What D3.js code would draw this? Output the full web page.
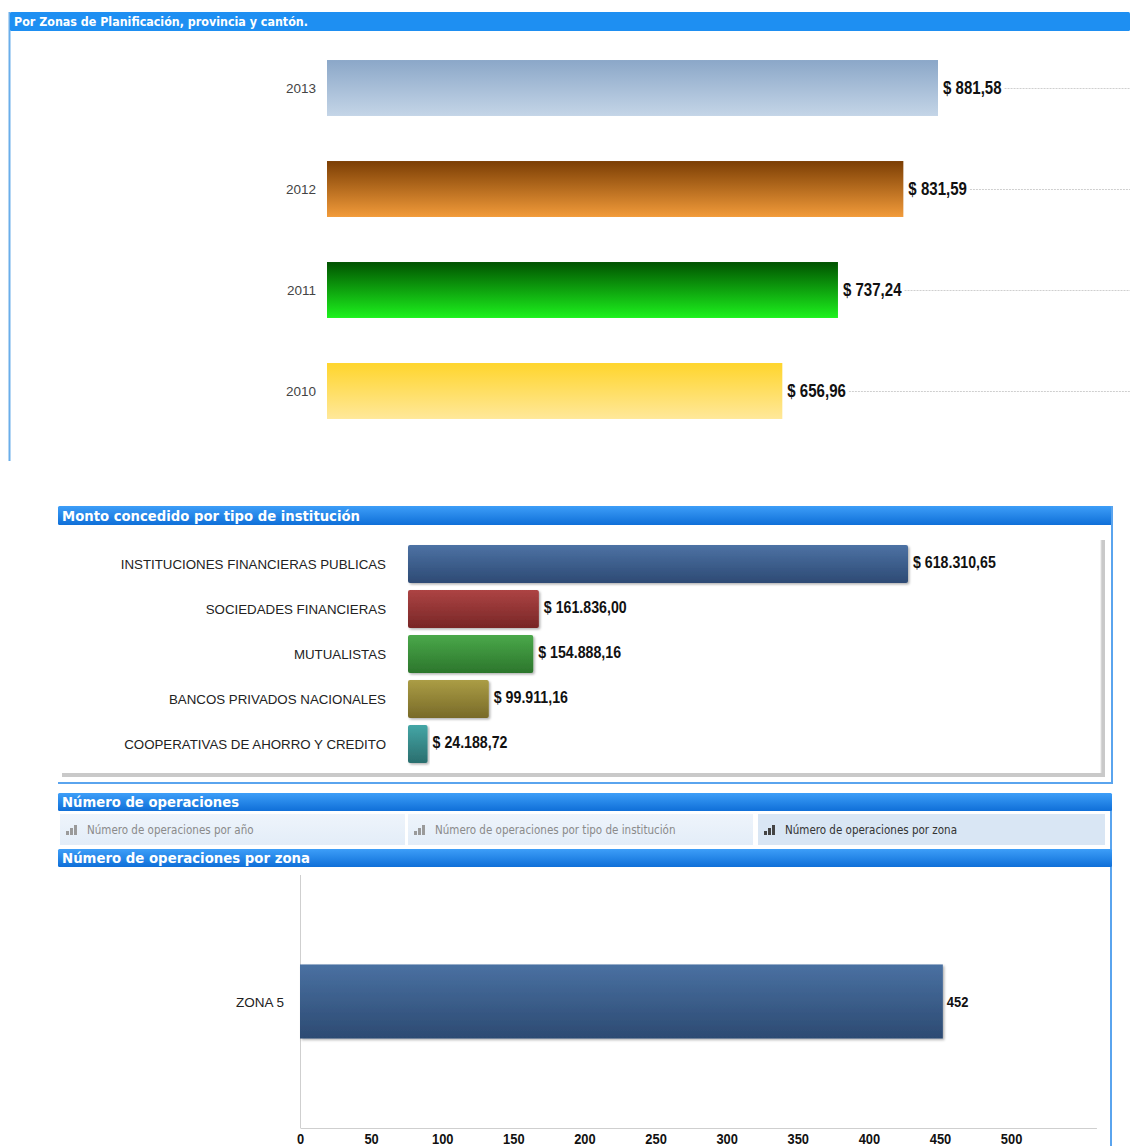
<!DOCTYPE html>
<html>
<head>
<meta charset="utf-8">
<script src="https://cdn.jsdelivr.net/npm/d3@7"></script>
<style>
  html, body { margin: 0; padding: 0; background: #fff; }
  svg { display: block; }
  .hdr { font-family: "DejaVu Sans", Tahoma, sans-serif; font-weight: bold; fill: #fff; }
  .cat { font-family: "Liberation Sans", Arial, sans-serif; }
  .val { font-family: "Liberation Sans", Arial, sans-serif; font-weight: bold; fill: #111; }
  .tab { font-family: "DejaVu Sans Condensed", "DejaVu Sans", sans-serif; font-size: 11.5px; }
</style>
</head>
<body>
<script>
// Amount granted per year
const years = ["2013", "2012", "2011", "2010"];
const yearAmounts = [881.58, 831.59, 737.24, 656.96];

// Amount granted per institution type
const institutions = [
  "INSTITUCIONES FINANCIERAS PUBLICAS",
  "SOCIEDADES FINANCIERAS",
  "MUTUALISTAS",
  "BANCOS PRIVADOS NACIONALES",
  "COOPERATIVAS DE AHORRO Y CREDITO"
];
const institutionAmounts = [618310.65, 161836.00, 154888.16, 99911.16, 24188.72];

// Number of operations per zone
const zones = ["ZONA 5"];
const zoneOperations = [452];
const operationTicks = [0, 50, 100, 150, 200, 250, 300, 350, 400, 450, 500];

const tabs = [
  "Número de operaciones por año",
  "Número de operaciones por tipo de institución",
  "Número de operaciones por zona"
];

const W = 1130, H = 1146;
const NARROW = 0.86; // horizontal squeeze for the condensed value labels
const locale = d3.formatLocale({ decimal: ",", thousands: ".", grouping: [3], currency: ["$ ", ""] });
const money = locale.format("$,.2f");

const svg = d3.select("body").append("svg").attr("width", W).attr("height", H);
const defs = svg.append("defs");

function vGrad(id, top, bottom) {
  const g = defs.append("linearGradient").attr("id", id)
    .attr("x1", 0).attr("y1", 0).attr("x2", 0).attr("y2", 1);
  g.append("stop").attr("offset", "0%").attr("stop-color", top);
  g.append("stop").attr("offset", "100%").attr("stop-color", bottom);
  return `url(#${id})`;
}

// condensed bold value label, returns its drawn width
function valueLabel(parent, x, y, size, text) {
  const t = parent.append("text").attr("class", "val")
    .attr("transform", `translate(${x},${y}) scale(${NARROW},1)`)
    .style("font-size", size + "px").text(text);
  return t.node().getComputedTextLength() * NARROW;
}

const hdrFill = vGrad("hdr", "#3d9ef8", "#0f6fd8");
const tabFill = vGrad("tabbg", "#eef4fb", "#e3edf8");

function header(x, y, w, h, text, textLen, size, fill) {
  svg.append("rect").attr("x", x).attr("y", y).attr("width", w).attr("height", h)
    .attr("rx", 1.5).attr("fill", fill || hdrFill);
  svg.append("text").attr("class", "hdr")
    .attr("x", x + 4).attr("y", y + h / 2 + size * 0.36)
    .style("font-size", size + "px")
    .attr("textLength", textLen).attr("lengthAdjust", "spacingAndGlyphs")
    .text(text);
}

// ---------- Panel 1: amount per year ----------
svg.append("line").attr("x1", 9.5).attr("x2", 9.5).attr("y1", 12).attr("y2", 461)
  .attr("stroke", "#6aaeea").attr("stroke-width", 2);
header(10, 12, 1120, 19, "Por Zonas de Planificación, provincia y cantón.", 294, 12, "#1e8ff2");

const yearColors = [
  ["#8ba7c8", "#c4d5e7"],
  ["#7b3e04", "#f29b3a"],
  ["#005200", "#1df21d"],
  ["#ffd52c", "#ffe89a"]
];
const yearFills = yearColors.map((c, i) => vGrad("yr" + i, c[0], c[1]));

const x1 = d3.scaleLinear().domain([0, d3.max(yearAmounts)]).range([327, 938]);
const y1 = d3.scaleBand().domain(years).range([37.5, 441.5]).paddingInner(0.446).paddingOuter(0.223);

const p1 = svg.append("g");
years.forEach((yr, i) => {
  const cy = y1(yr) + y1.bandwidth() / 2;
  const lw = valueLabel(p1, x1(yearAmounts[i]) + 5, cy + 5.5, 17.5, money(yearAmounts[i]));
  p1.append("line")
    .attr("x1", x1(yearAmounts[i]) + 8 + lw).attr("x2", W)
    .attr("y1", cy + 0.5).attr("y2", cy + 0.5)
    .attr("stroke", "#cfcfcf").attr("stroke-dasharray", "2,1");
  p1.append("rect")
    .attr("x", x1(0)).attr("y", y1(yr))
    .attr("width", x1(yearAmounts[i]) - x1(0)).attr("height", y1.bandwidth())
    .attr("fill", yearFills[i]);
  p1.append("text").attr("class", "cat")
    .attr("x", 316).attr("y", cy + 5).attr("text-anchor", "end")
    .style("font-size", "13.5px").attr("fill", "#444").text(yr);
});

// ---------- Panel 2: amount per institution type ----------
header(58, 506, 1054, 19, "Monto concedido por tipo de institución", 298, 14);
svg.append("line").attr("x1", 1112).attr("x2", 1112).attr("y1", 506).attr("y2", 784)
  .attr("stroke", "#5aa4ee").attr("stroke-width", 2);
svg.append("line").attr("x1", 58).attr("x2", 1113).attr("y1", 783).attr("y2", 783)
  .attr("stroke", "#5aa4ee").attr("stroke-width", 2);
// inner framed plot area with drop shadow
svg.append("rect").attr("x", 1101).attr("y", 540).attr("width", 4).attr("height", 237).attr("fill", "#c9c9c9");
svg.append("rect").attr("x", 62).attr("y", 773).attr("width", 1043).attr("height", 4).attr("fill", "#c9c9c9");
svg.append("line").attr("x1", 1101).attr("x2", 1101).attr("y1", 540).attr("y2", 773).attr("stroke", "#e2e2e2");

const instColors = [
  ["#4d72a4", "#2d4a74"],
  ["#ad4444", "#782626"],
  ["#4aa84a", "#2c762c"],
  ["#ab9d45", "#786a28"],
  ["#44a6a6", "#2a6e6e"]
];
const instFills = instColors.map((c, i) => vGrad("inst" + i, c[0], c[1]));
const shadowFilter = defs.append("filter").attr("id", "barShadow")
  .attr("x", "-5%").attr("y", "-10%").attr("width", "115%").attr("height", "130%");
shadowFilter.append("feDropShadow").attr("dx", 1.5).attr("dy", 1.5).attr("stdDeviation", 1.2)
  .attr("flood-color", "#000").attr("flood-opacity", 0.3);

const x2 = d3.scaleLinear().domain([0, d3.max(institutionAmounts)]).range([408, 908]);
const y2 = d3.scaleBand().domain(institutions).range([541.5, 766.5]).paddingInner(0.156).paddingOuter(0.078);

const p2 = svg.append("g");
institutions.forEach((name, i) => {
  const cy = y2(name) + y2.bandwidth() / 2;
  p2.append("rect")
    .attr("x", x2(0)).attr("y", y2(name))
    .attr("width", x2(institutionAmounts[i]) - x2(0)).attr("height", y2.bandwidth())
    .attr("rx", 2).attr("fill", instFills[i]).attr("filter", "url(#barShadow)");
  p2.append("text").attr("class", "cat")
    .attr("x", 386).attr("y", cy + 5).attr("text-anchor", "end")
    .style("font-size", "13.3px").attr("fill", "#222").text(name);
  valueLabel(p2, x2(institutionAmounts[i]) + 5, cy + 4, 16.5, money(institutionAmounts[i]));
});

// ---------- Panel 3: number of operations ----------
svg.append("line").attr("x1", 1111).attr("x2", 1111).attr("y1", 794).attr("y2", H)
  .attr("stroke", "#5aa4ee").attr("stroke-width", 2);
header(58, 793, 1054, 18, "Número de operaciones", 177, 13.5);

const tabX = [60, 408, 758];
const tabW = 345;
tabs.forEach((t, i) => {
  const sel = i === tabs.length - 1;
  svg.append("rect").attr("x", tabX[i]).attr("y", 814).attr("width", i === 2 ? 347 : tabW).attr("height", 31)
    .attr("fill", sel ? "#d9e6f4" : tabFill);
  const ic = svg.append("g").attr("transform", `translate(${tabX[i] + 6},${825})`)
    .attr("fill", sel ? "#444" : "#9a9a9a");
  [[0, 6, 3], [4, 3, 3], [8, 0, 3]].forEach(b => {
    ic.append("rect").attr("x", b[0]).attr("y", b[1]).attr("width", b[2]).attr("height", 10 - b[1]);
  });
  svg.append("text").attr("class", "tab")
    .attr("x", tabX[i] + 27).attr("y", 834)
    .attr("fill", sel ? "#333" : "#8a8a8a").text(t);
});

header(58, 849, 1054, 18, "Número de operaciones por zona", 248, 13.5);

const x3 = d3.scaleLinear().domain([0, 560]).range([300, 300 + 560 * 640 / 450]);
const y3 = d3.scaleBand().domain(zones).range([875, 1128]).padding(0.547);

const zoneFill = vGrad("zone", "#4a71a2", "#2c4a72");
const p3 = svg.append("g");
p3.append("line").attr("x1", 300.5).attr("x2", 300.5).attr("y1", 875).attr("y2", 1128)
  .attr("stroke", "#cfcfcf");
zones.forEach((z, i) => {
  const cy = y3(z) + y3.bandwidth() / 2;
  p3.append("rect")
    .attr("x", x3(0)).attr("y", y3(z))
    .attr("width", x3(zoneOperations[i]) - x3(0)).attr("height", y3.bandwidth())
    .attr("fill", zoneFill).attr("filter", "url(#barShadow)");
  p3.append("text").attr("class", "cat")
    .attr("x", 284).attr("y", cy + 5).attr("text-anchor", "end")
    .style("font-size", "13.5px").attr("fill", "#222").text(z);
  valueLabel(p3, x3(zoneOperations[i]) + 4, cy + 5, 15, zoneOperations[i]);
});

const axis = p3.append("g").attr("transform", "translate(0,1128)")
  .call(d3.axisBottom(x3).tickValues(operationTicks).tickSize(0).tickPadding(5).tickSizeOuter(0));
axis.select(".domain").attr("stroke", "#cfcfcf");
axis.selectAll("text").attr("class", "val").style("font-size", "15px").attr("fill", "#111")
  .attr("transform", `scale(${NARROW},1)`);
</script>
</body>
</html>
